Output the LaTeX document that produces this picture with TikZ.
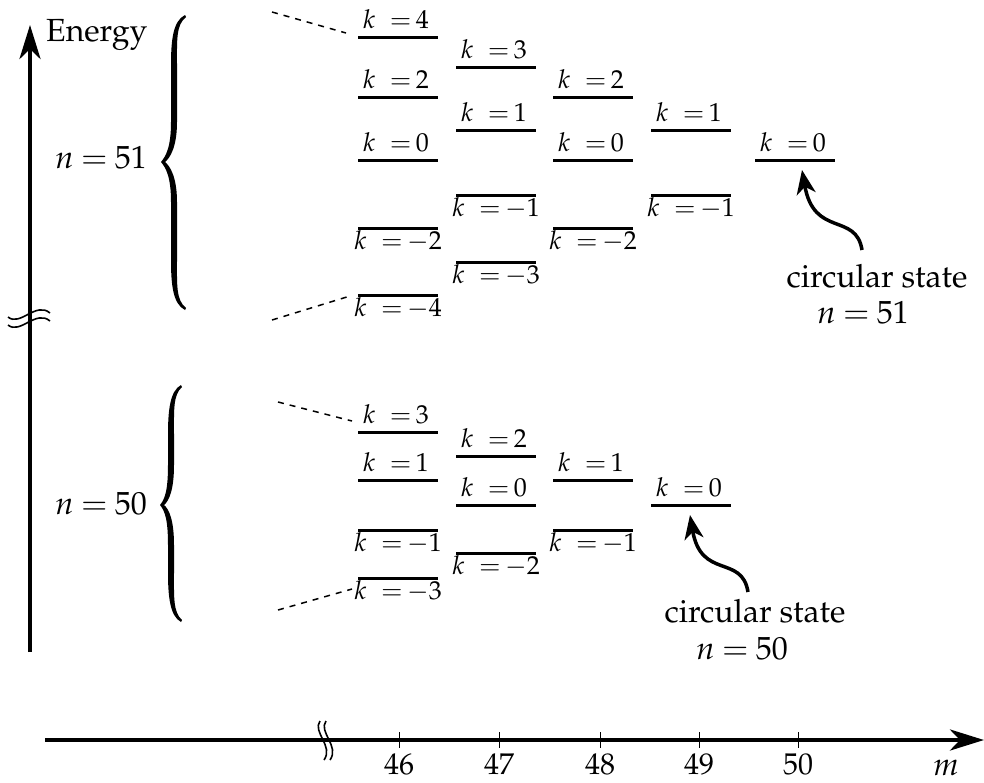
\documentclass[tikz,border=0pt]{standalone}
\usepackage[T1]{fontenc}
\usepackage{mathpazo}
\usetikzlibrary{arrows.meta}
\tikzset{
  lvl/.style={line width=3pt},
  klab/.style={inner sep=0pt, font=\fontsize{26}{30}\selectfont},
  bigtxt/.style={inner sep=0pt, font=\fontsize{32}{38}\selectfont},
  numtxt/.style={inner sep=0pt, font=\fontsize{30}{34}\selectfont},
  axisline/.style={line width=4.5pt, -{Stealth[length=34pt,width=21pt,inset=10pt]}},
  carrow/.style={line width=3.5pt, -{Stealth[length=24pt,width=19pt,inset=7pt]}},
  dashln/.style={line width=1.5pt, dash pattern=on 6pt off 6pt},
  brk/.style={line width=1.6pt},
  tickln/.style={line width=0.8pt},
}
\newcommand\nvalue[1]{$n\mskip4mu{=}\mskip4mu#1$}
% level with label above: name, x centre, y, k
\newcommand\levU[4]{%
  \draw[lvl] (#2-40,#3) -- (#2+40,#3);
  \node[klab,anchor=base] (#1) at (#2-2,#3-9) {$k\;\;{=}\,#4$};}
% level with label below: name, x centre, y, |k|
\newcommand\levD[4]{%
  \draw[lvl] (#2-40,#3) -- (#2+40,#3);
  \node[klab,anchor=base] (#1) at (#2,#3+21) {$k\;\;{=}\,{-}#4$};}
% brace: xtip, xstem, xcusp, ytop, ymid, ybot
\newcommand\bracefill[6]{%
  \fill (#1,#4)
    .. controls (#2-1,#4+6) and (#2-3,#4+25) .. (#2-3,#4+50)
    -- (#2-3,#5-40)
    .. controls (#2-3,#5-15) and (#3+5,#5-6) .. (#3,#5)
    .. controls (#3+5,#5+6) and (#2-3,#5+15) .. (#2-3,#5+40)
    -- (#2-3,#6-50)
    .. controls (#2-3,#6-25) and (#2-1,#6-6) .. (#1,#6)
    -- (#1+1,#6-2)
    .. controls (#2+2,#6-10) and (#2+3,#6-25) .. (#2+3,#6-50)
    -- (#2+3,#5+40)
    .. controls (#2+3,#5+15) and (#3+9,#5+4) .. (#3+4,#5)
    .. controls (#3+9,#5-4) and (#2+3,#5-15) .. (#2+3,#5-40)
    -- (#2+3,#4+50)
    .. controls (#2+3,#4+25) and (#2+2,#4+10) .. (#1+1,#4+2)
    -- cycle;}
\begin{document}
\begin{tikzpicture}[x=1pt,y=-1pt]
\useasboundingbox (0,0) rectangle (984,782);

% energy axis
\coordinate (vbot) at (30,652);
\coordinate (vtop) at (30,25);
\draw[axisline] (vbot) -- (vtop);
\node[bigtxt,anchor=base west] (energy) at (46,41) {Energy};
\draw[brk] (8,317) .. controls (20,327) and (36,301) .. (50,313);
\draw[brk] (8,325) .. controls (20,335) and (36,309) .. (50,321);

% m axis
\coordinate (hleft) at (45,740);
\coordinate (hright) at (984,740);
\draw[axisline] (hleft) -- (hright);
\draw[brk] (320,721) .. controls (312,732) and (334,746) .. (324,760);
\draw[brk] (326,721) .. controls (318,732) and (340,746) .. (330,760);
\foreach \xx/\mm in {399/46,499/47,600/48,699/49,798/50}{
  \draw[tickln] (\xx,732) -- (\xx,748);
  \node[numtxt,anchor=base] (m\mm) at (\xx,774) {\mm};
}
\node[bigtxt,anchor=base] (mlab) at (946,775) {$m$};

% braces and n labels
\bracefill{185}{174}{161}{15}{162}{310}
\node[bigtxt,anchor=base] (n51) at (101,168) {\nvalue{51}};
\bracefill{181}{171}{160}{385}{505}{622}
\node[bigtxt,anchor=base] (n50) at (101,514) {\nvalue{50}};

% dashed guides
\coordinate (d1a) at (272,12);  \coordinate (d1b) at (346,33);
\coordinate (d2a) at (272,320); \coordinate (d2b) at (350,296);
\coordinate (d3a) at (278,402); \coordinate (d3b) at (352,421);
\coordinate (d4a) at (278,610); \coordinate (d4b) at (352,589);
\draw[dashln] (d1a) -- (d1b);
\draw[dashln] (d2a) -- (d2b);
\draw[dashln] (d3a) -- (d3b);
\draw[dashln] (d4a) -- (d4b);

% n = 51 levels
\levU{a46p4}{398}{37}{4}
\levU{a46p2}{398}{97}{2}
\levU{a46p0}{398}{160}{0}
\levD{a46m2}{398}{228}{2}
\levD{a46m4}{398}{295}{4}
\levU{a47p3}{496}{67}{3}
\levU{a47p1}{496}{130}{1}
\levD{a47m1}{496}{195}{1}
\levD{a47m3}{496}{262}{3}
\levU{a48p2}{593}{97}{2}
\levU{a48p0}{593}{160}{0}
\levD{a48m2}{593}{228}{2}
\levU{a49p1}{691}{130}{1}
\levD{a49m1}{691}{195}{1}
\levU{a50p0}{795}{160}{0}

% n = 50 levels
\levU{b46p3}{398}{432}{3}
\levU{b46p1}{398}{480}{1}
\levD{b46m1}{398}{530}{1}
\levD{b46m3}{398}{578}{3}
\levU{b47p2}{496}{456}{2}
\levU{b47p0}{496}{505}{0}
\levD{b47m2}{496}{553}{2}
\levU{b48p1}{593}{480}{1}
\levD{b48m1}{593}{530}{1}
\levU{b49p0}{691}{505}{0}

% circular state n = 51
\node[bigtxt,anchor=base] (cs51) at (877,287) {circular state};
\node[bigtxt,anchor=base] (cs51n) at (863,323) {\nvalue{51}};
\coordinate (t51) at (862,250);
\coordinate (h51) at (802,170);
\draw[carrow] (t51) .. controls (856,212) and (814,238) .. (h51);

% circular state n = 50
\node[bigtxt,anchor=base] (cs50) at (755,622) {circular state};
\node[bigtxt,anchor=base] (cs50n) at (742,659) {\nvalue{50}};
\coordinate (t50) at (748,592);
\coordinate (h50) at (690,515);
\draw[carrow] (t50) .. controls (742,554) and (701,580) .. (h50);
\end{tikzpicture}
\end{document}
